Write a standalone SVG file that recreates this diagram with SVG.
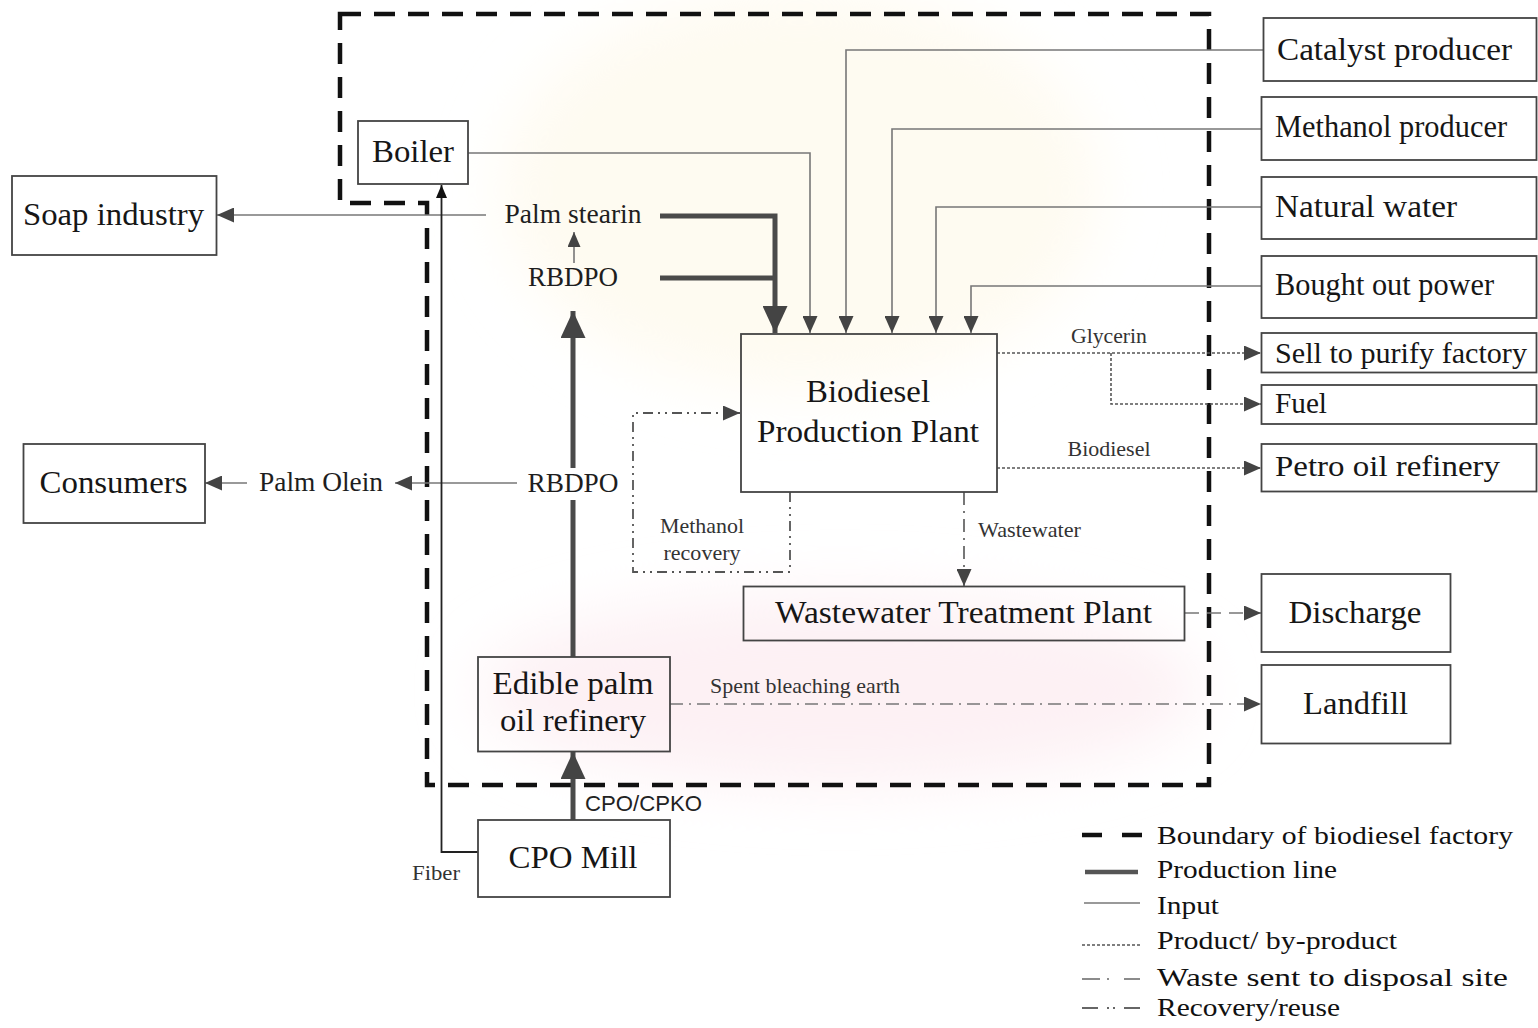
<svg xmlns="http://www.w3.org/2000/svg" width="1538" height="1028" viewBox="0 0 1538 1028">
  <style>
    .box { fill: none; stroke: #444; stroke-width: 1.8; }
    .big { font-family: "Liberation Serif", "Times New Roman", serif; font-size: 32px; fill: #161616; }
    .mid { font-family: "Liberation Serif", "Times New Roman", serif; font-size: 27px; fill: #1e1e1e; }
    .sm { font-family: "Liberation Serif", "Times New Roman", serif; font-size: 21px; fill: #333; }
    .leg { font-family: "Liberation Serif", "Times New Roman", serif; font-size: 25px; fill: #111; }
    .sans { font-family: "Liberation Sans", Arial, sans-serif; font-size: 22px; fill: #222; }
    .boundary { fill: none; stroke: #111; stroke-width: 4.5; stroke-dasharray: 21 13; }
    .prod { fill: none; stroke: #4a4a4a; stroke-width: 5; }
    .input { fill: none; stroke: #777; stroke-width: 1.6; }
    .fiber { fill: none; stroke: #222; stroke-width: 1.8; }
    .dot { fill: none; stroke: #555; stroke-width: 1.6; stroke-dasharray: 3 2; }
    .waste { fill: none; stroke: #777; stroke-width: 1.6; stroke-dasharray: 13 6 2 6; }
    .recov { fill: none; stroke: #555; stroke-width: 1.8; stroke-dasharray: 10 5 2 5 2 5; }
  </style>
  <defs>
    <marker id="ah" markerUnits="userSpaceOnUse" markerWidth="17" markerHeight="15" refX="17" refY="7.5" orient="auto">
      <path d="M0,0 L17,7.5 L0,15 Z" fill="#444"/>
    </marker>
    <marker id="ahBig" markerUnits="userSpaceOnUse" markerWidth="27" markerHeight="25" refX="27" refY="12.5" orient="auto">
      <path d="M0,0 L27,12.5 L0,25 Z" fill="#444"/>
    </marker>
    <marker id="ahSmall" markerUnits="userSpaceOnUse" markerWidth="15" markerHeight="13" refX="15" refY="6.5" orient="auto">
      <path d="M0,0 L15,6.5 L0,13 Z" fill="#444"/>
    </marker>
    <marker id="ahBlack" markerUnits="userSpaceOnUse" markerWidth="13" markerHeight="11" refX="13" refY="5.5" orient="auto">
      <path d="M0,0 L13,5.5 L0,11 Z" fill="#111"/>
    </marker>
    <filter id="soft" x="-50%" y="-50%" width="200%" height="200%">
      <feGaussianBlur stdDeviation="30"/>
    </filter>
  </defs>

  <rect width="1538" height="1028" fill="#fff"/>

  <!-- faint background tint -->
  <g id="tint" filter="url(#soft)">
    <ellipse cx="800" cy="190" rx="300" ry="200" fill="#fefbf1"/>
    <ellipse cx="840" cy="690" rx="360" ry="95" fill="#fdf1f4"/>
  </g>

  <!-- factory boundary -->
  <path class="boundary" d="M340,14 H1209 V785 H427 V203 H340 Z"/>

  <g id="connectors">
    <!-- production line -->
    <path class="prod" d="M660,216 H775 V333" marker-end="url(#ahBig)"/>
    <path class="prod" d="M660,278 H775"/>
    <path class="prod" d="M573,657 V500"/>
    <path class="prod" d="M573,468 V311" marker-end="url(#ahBig)"/>
    <path class="prod" d="M573,820 V752" marker-end="url(#ahBig)"/>
    <!-- RBDPO to palm stearin -->
    <path class="input" d="M574,263 V232" marker-end="url(#ahSmall)"/>
    <!-- inputs to biodiesel plant -->
    <path class="input" d="M468,153 H810 V333" marker-end="url(#ah)"/>
    <path class="input" d="M1263,50 H846 V333" marker-end="url(#ah)"/>
    <path class="input" d="M1261,129 H892 V333" marker-end="url(#ah)"/>
    <path class="input" d="M1261,207 H936 V333" marker-end="url(#ah)"/>
    <path class="input" d="M1261,286 H971 V333" marker-end="url(#ah)"/>
    <!-- palm products out -->
    <path class="input" d="M486,215 H217" marker-end="url(#ah)"/>
    <path class="input" d="M517,483 H395" marker-end="url(#ah)"/>
    <path class="input" d="M247,483 H205" marker-end="url(#ah)"/>
    <!-- fiber to boiler -->
    <path class="fiber" d="M478,852 H441.5 V185" marker-end="url(#ahBlack)"/>
    <!-- products / by-products -->
    <path class="dot" d="M997,353 H1261" marker-end="url(#ah)"/>
    <path class="dot" d="M1111,353 V404 H1261" marker-end="url(#ah)"/>
    <path class="dot" d="M997,468 H1261" marker-end="url(#ah)"/>
    <!-- methanol recovery loop -->
    <path class="recov" d="M790,492 V572 H633 V413 H740" marker-end="url(#ah)"/>
    <!-- waste streams -->
    <path class="waste" d="M964,492 V586" marker-end="url(#ah)" style="stroke:#555"/>
    <path class="waste" d="M1185,613 H1261" marker-end="url(#ah)" style="stroke-dasharray:14 8"/>
    <path class="waste" d="M670,704 H1261" marker-end="url(#ah)"/>
  </g>

  <!-- flow labels -->
  <g id="flow-labels">
    <text class="mid" x="573" y="223" text-anchor="middle" textLength="137" lengthAdjust="spacingAndGlyphs">Palm stearin</text>
    <text class="mid" x="573" y="286" text-anchor="middle" textLength="90" lengthAdjust="spacingAndGlyphs">RBDPO</text>
    <text class="mid" x="573" y="492" text-anchor="middle" textLength="91" lengthAdjust="spacingAndGlyphs">RBDPO</text>
    <text class="mid" x="321" y="491" text-anchor="middle" textLength="124" lengthAdjust="spacingAndGlyphs">Palm Olein</text>
    <text class="sm" x="1109" y="343" text-anchor="middle" textLength="76" lengthAdjust="spacingAndGlyphs">Glycerin</text>
    <text class="sm" x="1109" y="456" text-anchor="middle" textLength="83" lengthAdjust="spacingAndGlyphs">Biodiesel</text>
    <text class="sm" x="702" y="533" text-anchor="middle" textLength="84" lengthAdjust="spacingAndGlyphs">Methanol</text>
    <text class="sm" x="702" y="560" text-anchor="middle" textLength="77" lengthAdjust="spacingAndGlyphs">recovery</text>
    <text class="sm" x="978" y="537" textLength="103" lengthAdjust="spacingAndGlyphs">Wastewater</text>
    <text class="sm" x="710" y="693" textLength="190" lengthAdjust="spacingAndGlyphs">Spent bleaching earth</text>
    <text class="sans" x="585" y="811" textLength="117" lengthAdjust="spacingAndGlyphs">CPO/CPKO</text>
    <text class="sm" x="412" y="880" textLength="48" lengthAdjust="spacingAndGlyphs">Fiber</text>
  </g>

  <!-- nodes -->
  <g id="boiler">
    <rect class="box" x="358" y="121" width="110" height="63"/>
    <text class="big" x="413" y="162" text-anchor="middle" textLength="82" lengthAdjust="spacingAndGlyphs">Boiler</text>
  </g>
  <g id="soap-industry">
    <rect class="box" x="12" y="176" width="204.5" height="79"/>
    <text class="big" x="113.5" y="225" text-anchor="middle" textLength="181" lengthAdjust="spacingAndGlyphs">Soap industry</text>
  </g>
  <g id="consumers">
    <rect class="box" x="23.5" y="444" width="181.5" height="79"/>
    <text class="big" x="113.5" y="493" text-anchor="middle" textLength="148" lengthAdjust="spacingAndGlyphs">Consumers</text>
  </g>
  <g id="biodiesel-plant">
    <rect class="box" x="741" y="334" width="256" height="158"/>
    <text class="big" x="868" y="402" text-anchor="middle" textLength="124" lengthAdjust="spacingAndGlyphs">Biodiesel</text>
    <text class="big" x="868" y="442" text-anchor="middle" textLength="222" lengthAdjust="spacingAndGlyphs">Production Plant</text>
  </g>
  <g id="wastewater-plant">
    <rect class="box" x="743.5" y="586.5" width="441" height="54"/>
    <text class="big" x="775" y="623" textLength="377" lengthAdjust="spacingAndGlyphs">Wastewater Treatment Plant</text>
  </g>
  <g id="edible-refinery">
    <rect class="box" x="478" y="657" width="192" height="94.5"/>
    <text class="big" x="573" y="694" text-anchor="middle" textLength="161" lengthAdjust="spacingAndGlyphs">Edible palm</text>
    <text class="big" x="573" y="731" text-anchor="middle" textLength="146" lengthAdjust="spacingAndGlyphs">oil refinery</text>
  </g>
  <g id="cpo-mill">
    <rect class="box" x="478" y="820" width="192" height="77"/>
    <text class="big" x="573" y="868" text-anchor="middle" textLength="129" lengthAdjust="spacingAndGlyphs">CPO Mill</text>
  </g>
  <g id="catalyst-producer">
    <rect class="box" x="1263.5" y="18" width="273" height="63"/>
    <text class="big" x="1277" y="60" textLength="235" lengthAdjust="spacingAndGlyphs">Catalyst producer</text>
  </g>
  <g id="methanol-producer">
    <rect class="box" x="1261.5" y="97" width="275" height="63"/>
    <text class="big" x="1275" y="137" textLength="232" lengthAdjust="spacingAndGlyphs">Methanol producer</text>
  </g>
  <g id="natural-water">
    <rect class="box" x="1261.5" y="177" width="275" height="62"/>
    <text class="big" x="1275" y="217" textLength="182" lengthAdjust="spacingAndGlyphs">Natural water</text>
  </g>
  <g id="bought-out-power">
    <rect class="box" x="1261.5" y="256" width="275" height="62"/>
    <text class="big" x="1275" y="295" textLength="219" lengthAdjust="spacingAndGlyphs">Bought out power</text>
  </g>
  <g id="purify-factory">
    <rect class="box" x="1261.5" y="333" width="275" height="39.5"/>
    <text class="big" x="1275" y="363" textLength="252" lengthAdjust="spacingAndGlyphs" style="font-size:30px">Sell to purify factory</text>
  </g>
  <g id="fuel">
    <rect class="box" x="1261.5" y="385" width="275" height="39"/>
    <text class="big" x="1275" y="413" textLength="52" lengthAdjust="spacingAndGlyphs" style="font-size:30px">Fuel</text>
  </g>
  <g id="petro-refinery">
    <rect class="box" x="1261.5" y="444" width="275" height="47.5"/>
    <text class="big" x="1275" y="476" textLength="225" lengthAdjust="spacingAndGlyphs" style="font-size:30px">Petro oil refinery</text>
  </g>
  <g id="discharge">
    <rect class="box" x="1261.5" y="574" width="189" height="78"/>
    <text class="big" x="1355" y="623" text-anchor="middle" textLength="133" lengthAdjust="spacingAndGlyphs">Discharge</text>
  </g>
  <g id="landfill">
    <rect class="box" x="1261.5" y="665" width="189" height="78.5"/>
    <text class="big" x="1355.5" y="714" text-anchor="middle" textLength="105" lengthAdjust="spacingAndGlyphs">Landfill</text>
  </g>

  <!-- legend -->
  <g id="legend">
    <path d="M1082,835 H1142" fill="none" stroke="#111" stroke-width="4.5" stroke-dasharray="20 20"/>
    <text class="leg" x="1157" y="844" textLength="356" lengthAdjust="spacingAndGlyphs">Boundary of biodiesel factory</text>
    <path d="M1085,872 H1138" class="prod" style="stroke-width:4.5;stroke:#555"/>
    <text class="leg" x="1157" y="878" textLength="180" lengthAdjust="spacingAndGlyphs">Production line</text>
    <path d="M1084,903 H1140" class="input"/>
    <text class="leg" x="1157" y="914" textLength="62" lengthAdjust="spacingAndGlyphs">Input</text>
    <path d="M1082,945 H1142" class="dot"/>
    <text class="leg" x="1157" y="949" textLength="240" lengthAdjust="spacingAndGlyphs">Product/ by-product</text>
    <path d="M1082,979 H1142" fill="none" stroke="#666" stroke-width="1.6" stroke-dasharray="18 7 2 15 16"/>
    <text class="leg" x="1157" y="986" textLength="351" lengthAdjust="spacingAndGlyphs">Waste sent to disposal site</text>
    <path d="M1082,1008 H1142" fill="none" stroke="#666" stroke-width="1.8" stroke-dasharray="16 9 2 4 2 9 16"/>
    <text class="leg" x="1157" y="1016" textLength="183" lengthAdjust="spacingAndGlyphs">Recovery/reuse</text>
  </g>
</svg>
